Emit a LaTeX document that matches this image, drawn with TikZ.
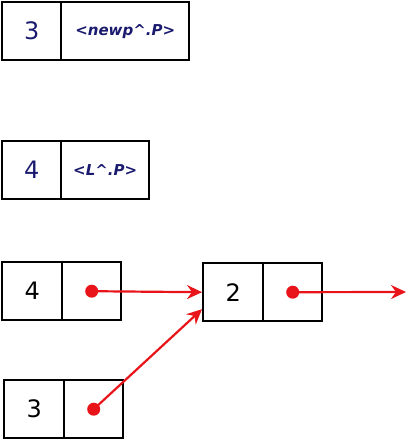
\documentclass[tikz,border=0pt]{standalone}
\usepackage{fontspec}
\setmainfont{DejaVu Sans}
\usetikzlibrary{arrows.meta}
\definecolor{navy}{HTML}{1A1A6E}
\definecolor{ptr}{HTML}{E8141A}
\begin{document}
\begin{tikzpicture}[x=1pt,y=-1pt,
  cell/.style={draw=black,line width=2.4pt,rectangle,inner sep=0pt,anchor=north west,minimum height=58pt},
  num/.style={font=\fontsize{24}{26}\selectfont},
  lbl/.style={font=\fontsize{15}{17}\selectfont\bfseries\itshape,text=navy},
  dotc/.style={circle,fill=ptr,inner sep=0pt,minimum size=13pt},
  link/.style={draw=ptr,line width=2.2pt,-{Stealth[length=15pt,width=14pt,inset=5pt]}}]
\useasboundingbox (0,0) rectangle (409,441);
% box 1
\node[cell,minimum width=59pt,num,text=navy] (a1) at (1,1) {3};
\node[cell,minimum width=128pt,lbl] (a2) at (60,1) {<newp\textasciicircum.P>};
% box 2
\node[cell,minimum width=59pt,num,text=navy] (b1) at (1,140) {4};
\node[cell,minimum width=88pt,lbl] (b2) at (60,140) {<L\textasciicircum.P>};
% box 3
\node[cell,minimum width=60pt,num] (c1) at (1,261) {4};
\node[cell,minimum width=59pt] (c2) at (61,261) {};
% box 4
\node[cell,minimum width=60pt,num] (d1) at (202,262) {2};
\node[cell,minimum width=59pt] (d2) at (262,262) {};
% box 5
\node[cell,minimum width=60pt,num] (e1) at (3,379) {3};
\node[cell,minimum width=59pt] (e2) at (63,379) {};
% pointers
\node[dotc] (pc) at (c2.center) {};
\node[dotc] (pd) at (d2.center) {};
\node[dotc] (pe) at (e2.center) {};
\coordinate (nil) at (406,292);
\coordinate (d1t) at ([yshift=-17pt]d1.west);
\draw[link] (pc.center) -- (d1.west);
\draw[link] (pd.center) -- (nil);
\draw[link] (pe.center) -- (d1t);
\end{tikzpicture}
\end{document}
